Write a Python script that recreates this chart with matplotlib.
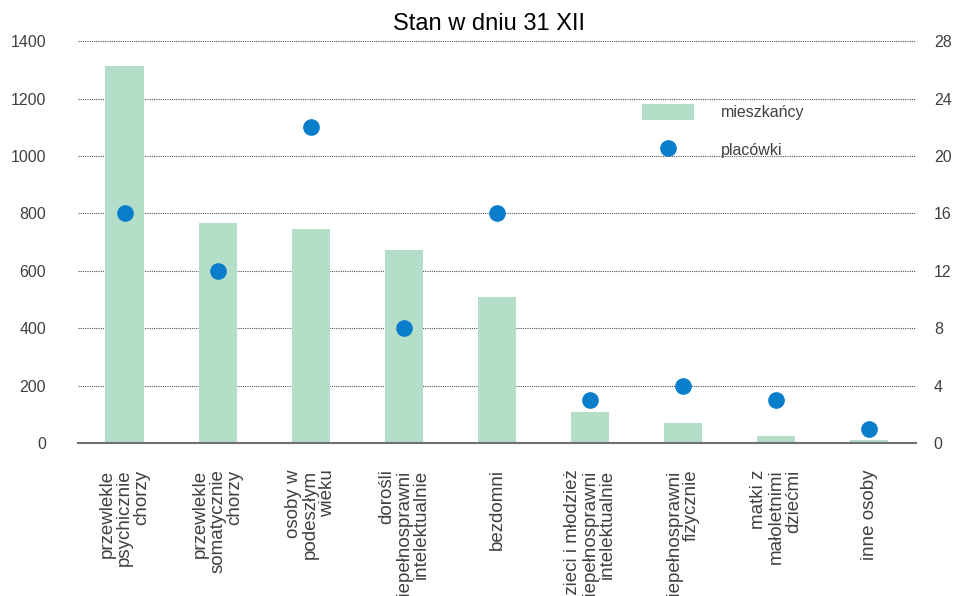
import matplotlib.pyplot as plt
import numpy as np

plt.rcParams['font.family'] = ['Liberation Sans', 'DejaVu Sans']

# Categories and values
categories = ['przewlekle\npsychicznie\nchorzy', 'przewlekle\nsomatycznie\nchorzy',
              'osoby w\npodeszłym\nwieku', 'dorośli\nniepełnosprawni\nintelektualnie',
              'bezdomni', 'dzieci i młodzież\nniepełnosprawni\nintelektualnie',
              'niepełnosprawni\nfizycznie', 'matki z\nmałoletnimi\ndziećmi', 'inne osoby']
mieszkancy = [1315, 766, 745, 672, 508, 108, 70, 24, 10]
placowki = [16, 12, 22, 8, 16, 3, 4, 3, 1]

x = np.arange(len(categories))

fig = plt.figure(figsize=(9.67, 5.96), dpi=100)
ax = fig.add_axes([0.0807, 0.2567, 0.8663, 0.6743])
ax2 = ax.twinx()

bars = ax.bar(x, mieszkancy, width=0.41, color='#b5dec9', zorder=2, label='mieszkańcy')
dots, = ax2.plot(x, placowki, 'o', color='#0a7ecb', markersize=11, zorder=3,
                 label='placówki')

ax.set_xlim(-0.5, 8.5)
ax.set_ylim(0, 1400)
ax2.set_ylim(0, 28)
ax.set_yticks(np.arange(0, 1401, 200))
ax2.set_yticks(np.arange(0, 29, 4))

# Dotted grid
for yv in np.arange(200, 1401, 200):
    ax.axhline(yv, color='#555555', linestyle=(0, (1, 1)), linewidth=0.8, zorder=1)

for a in (ax, ax2):
    for s in a.spines.values():
        s.set_visible(False)
    a.tick_params(length=0, labelsize=11.5, colors='#404040')
ax.spines['bottom'].set_visible(True)
ax.spines['bottom'].set_color('#707070')
ax.spines['bottom'].set_linewidth(1.5)
ax.tick_params(axis='y', pad=23)
ax2.tick_params(axis='y', pad=13)

ax.set_xticks(x)
ax.set_xticklabels(categories, rotation=90, fontsize=13.5, color='#404040',
                   multialignment='right', linespacing=1.02)
ax.tick_params(axis='x', pad=19)

ax.set_zorder(ax2.get_zorder() - 1)
ax.patch.set_visible(False)
ax2.set_zorder(1)

ax2.set_title('Stan w dniu 31 XII', fontsize=17, pad=8, x=0.49)

leg = ax2.legend([bars, dots], ['mieszkańcy', 'placówki'], loc='upper left',
                 bbox_to_anchor=(0.665, 0.86), frameon=False, fontsize=11.5,
                 handlelength=3.3, handleheight=1.15, handletextpad=1.7,
                 labelspacing=1.35, borderaxespad=0)
for t in leg.get_texts():
    t.set_color('#404040')

fig.savefig('out.png', dpi=100)
